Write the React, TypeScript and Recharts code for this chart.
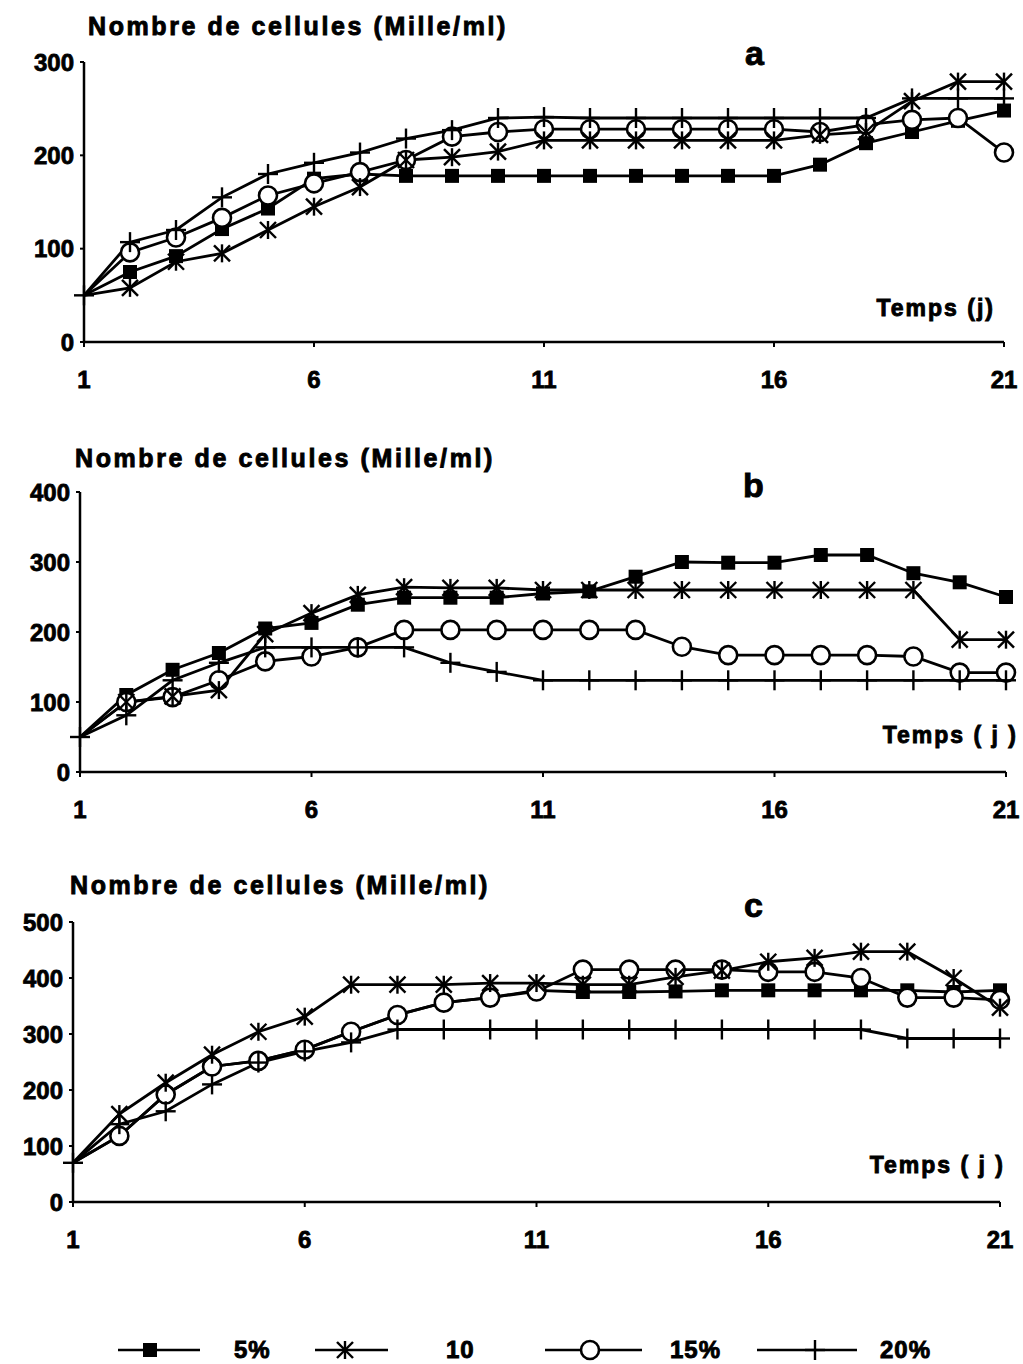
import React from 'react';
import { LineChart, Line, XAxis, YAxis } from 'recharts';

// jours de culture
const days = [1, 2, 3, 4, 5, 6, 7, 8, 9, 10, 11, 12, 13, 14, 15, 16, 17, 18, 19, 20, 21];
const xTicks = [1, 6, 11, 16, 21];

// graphe a
const a5 = [50, 75, 92, 121, 143, 175, 180, 178, 178, 178, 178, 178, 178, 178, 178, 178, 190, 213, 225, 237, 248];
const a10 = [50, 58, 86, 95, 120, 145, 166, 195, 198, 204, 216, 216, 216, 216, 216, 216, 222, 225, 258, 279, 279];
const a15 = [50, 96, 112, 133, 157, 170, 182, 195, 220, 225, 228, 228, 228, 228, 228, 228, 225, 233, 238, 240, 203];
const a20 = [50, 107, 120, 155, 180, 192, 203, 218, 227, 240, 241, 240, 240, 240, 240, 240, 240, 240, 261, 261, 261];

// graphe b
const b5 = [50, 110, 146, 170, 205, 213, 239, 249, 249, 249, 255, 258, 279, 300, 299, 299, 310, 310, 284, 271, 250];
const b10 = [50, 100, 108, 117, 197, 227, 253, 264, 263, 263, 260, 260, 260, 260, 260, 260, 260, 260, 260, 189, 189];
const b15 = [50, 100, 107, 131, 158, 165, 178, 203, 203, 203, 203, 203, 203, 179, 167, 167, 167, 167, 165, 142, 142];
const b20 = [50, 81, 131, 156, 178, 178, 178, 178, 156, 143, 131, 131, 131, 131, 131, 131, 131, 131, 131, 131, 131];

// graphe c
const c5 = [70, 118, 192, 242, 252, 272, 304, 334, 356, 365, 378, 375, 375, 376, 378, 378, 378, 378, 378, 375, 378];
const c10 = [70, 157, 213, 263, 304, 331, 388, 388, 388, 391, 391, 388, 388, 402, 413, 429, 436, 447, 447, 400, 347];
const c15 = [70, 118, 192, 242, 252, 272, 304, 334, 356, 365, 376, 415, 415, 415, 415, 411, 411, 400, 365, 365, 361];
const c20 = [70, 139, 162, 210, 249, 269, 285, 308, 308, 308, 308, 308, 308, 308, 308, 308, 308, 308, 292, 292, 292];

const legendLabels = ['5%', '10', '15%', '20%'];

const FONT = '"Liberation Sans", Arial, sans-serif';
const INK = '#000';

const square = (cx: number, cy: number, key?: string) => (
  <rect key={key} x={cx - 7} y={cy - 7} width={14} height={14} fill={INK} />
);
const star = (cx: number, cy: number, key?: string) => (
  <g key={key} stroke={INK} strokeWidth={2.4}>
    <line x1={cx - 8} y1={cy - 8} x2={cx + 8} y2={cy + 8} />
    <line x1={cx + 8} y1={cy - 8} x2={cx - 8} y2={cy + 8} />
    <line x1={cx} y1={cy - 9} x2={cx} y2={cy + 9} />
  </g>
);
const ring = (cx: number, cy: number, key?: string) => (
  <circle key={key} cx={cx} cy={cy} r={9} fill="#fff" stroke={INK} strokeWidth={2.6} />
);
const plus = (cx: number, cy: number, key?: string) => (
  <g key={key} stroke={INK} strokeWidth={2.4}>
    <line x1={cx - 10} y1={cy} x2={cx + 10} y2={cy} />
    <line x1={cx} y1={cy - 10} x2={cx} y2={cy + 10} />
  </g>
);

// pas de marqueur au jour 1 sauf pour 20%
const dotFor = (shape: typeof square, name: string, first = false) => (p: any) =>
  p.index === 0 && !first ? <g key={`${name}-${p.index}`} /> : shape(p.cx, p.cy, `${name}-${p.index}`);

const Txt = ({ x, y, size, spacing = 0, children, anchor = 'left' }: any) => (
  <div
    style={{
      position: 'absolute',
      left: anchor === 'left' ? x : undefined,
      right: anchor === 'right' ? 1023 - x : undefined,
      top: y - size * 0.58,
      fontSize: size,
      lineHeight: `${size}px`,
      fontWeight: 700,
      letterSpacing: spacing,
      WebkitTextStroke: '0.9px #000',
      whiteSpace: 'pre',
      color: INK,
    }}
  >
    {children}
  </div>
);

function Panel({ top, left, right, max, s5, s10, s15, s20 }: any) {
  const data = days.map((d, i) => ({ day: d, s5: s5[i], s10: s10[i], s15: s15[i], s20: s20[i] }));
  const yTicks = [];
  for (let v = 0; v <= max; v += 100) yTicks.push(v);
  const tick = { fontSize: 24, fontWeight: 700, fill: INK, fontFamily: FONT, stroke: INK, strokeWidth: 0.8 };
  return (
    <div style={{ position: 'absolute', top, left: 0 }}>
      <LineChart width={1023} height={400} data={data} margin={{ top: 62, right, bottom: 0, left: left - 60 }}>
        <XAxis
          dataKey="day"
          type="number"
          domain={[1, 21]}
          ticks={xTicks}
          tick={tick}
          tickSize={5}
          tickMargin={24}
          height={58}
          axisLine={{ stroke: INK, strokeWidth: 2.5 }}
          tickLine={{ stroke: INK, strokeWidth: 2 }}
        />
        <YAxis
          domain={[0, max]}
          ticks={yTicks}
          width={60}
          tick={tick}
          tickSize={4}
          tickMargin={6}
          axisLine={{ stroke: INK, strokeWidth: 2.5 }}
          tickLine={{ stroke: INK, strokeWidth: 2 }}
        />
        <Line dataKey="s5" type="linear" stroke={INK} strokeWidth={2.8} dot={dotFor(square, 's5')} isAnimationActive={false} />
        <Line dataKey="s15" type="linear" stroke={INK} strokeWidth={2.8} dot={dotFor(ring, 's15')} isAnimationActive={false} />
        <Line dataKey="s20" type="linear" stroke={INK} strokeWidth={2.8} dot={dotFor(plus, 's20', true)} isAnimationActive={false} />
        <Line dataKey="s10" type="linear" stroke={INK} strokeWidth={2.8} dot={dotFor(star, 's10')} isAnimationActive={false} />
      </LineChart>
    </div>
  );
}

function LegendRow() {
  const shapes = [square, star, ring, plus];
  const items = [
    { x1: 118, x2: 200, mx: 150, tx: 234 },
    { x1: 315, x2: 388, mx: 345, tx: 446 },
    { x1: 545, x2: 642, mx: 590, tx: 670 },
    { x1: 757, x2: 857, mx: 815, tx: 880 },
  ];
  return (
    <>
      <svg width={1023} height={40} style={{ position: 'absolute', left: 0, top: 1330 }}>
        {items.map((it, i) => (
          <g key={i}>
            <line x1={it.x1} y1={20} x2={it.x2} y2={20} stroke={INK} strokeWidth={2.5} />
            {shapes[i](it.mx, 20)}
          </g>
        ))}
      </svg>
      {items.map((it, i) => (
        <Txt key={i} x={it.tx} y={1352} size={24} spacing={1}>
          {legendLabels[i]}
        </Txt>
      ))}
    </>
  );
}

export default function App() {
  return (
    <div
      style={{
        position: 'absolute',
        left: 0,
        top: 0,
        width: 1023,
        height: 1364,
        background: '#fff',
        fontFamily: FONT,
        overflow: 'hidden',
      }}
    >
      <Panel top={0} left={84} right={19} max={300} s5={a5} s10={a10} s15={a15} s20={a20} />
      <Panel top={430} left={80} right={17} max={400} s5={b5} s10={b10} s15={b15} s20={b20} />
      <Panel top={860} left={73} right={23} max={500} s5={c5} s10={c10} s15={c15} s20={c20} />

      <Txt x={88} y={28} size={25} spacing={2.6}>Nombre de cellules (Mille/ml)</Txt>
      <Txt x={75} y={460} size={25} spacing={2.6}>Nombre de cellules (Mille/ml)</Txt>
      <Txt x={70} y={887} size={25} spacing={2.6}>Nombre de cellules (Mille/ml)</Txt>

      <Txt x={745} y={56} size={34}>a</Txt>
      <Txt x={743} y={488} size={34}>b</Txt>
      <Txt x={744} y={908} size={34}>c</Txt>

      <Txt x={995} y={310} size={23} spacing={2} anchor="right">Temps (j)</Txt>
      <Txt x={1018} y={737} size={23} spacing={2} anchor="right">Temps ( j )</Txt>
      <Txt x={1005} y={1167} size={23} spacing={2} anchor="right">Temps ( j )</Txt>

      <LegendRow />
    </div>
  );
}
